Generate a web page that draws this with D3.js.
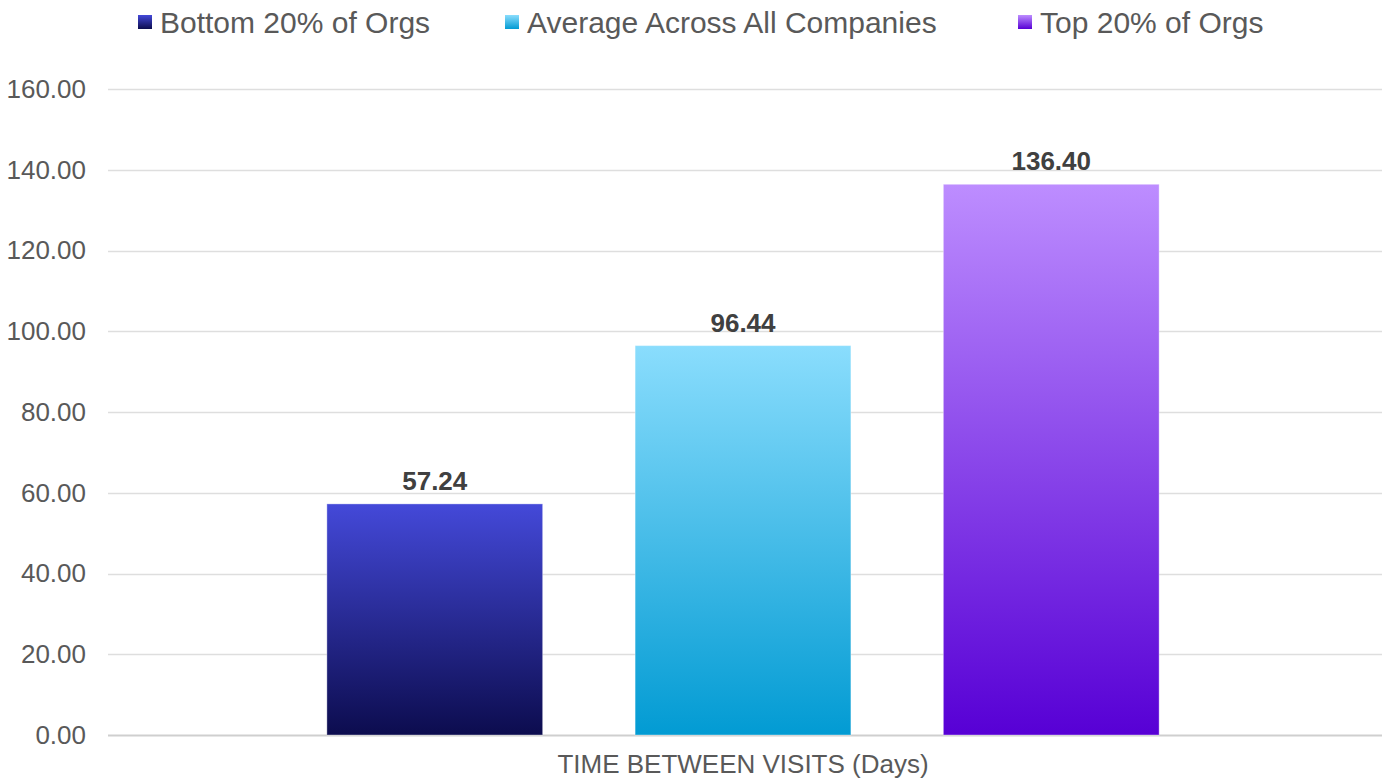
<!DOCTYPE html>
<html>
<head>
<meta charset="utf-8">
<script src="https://cdn.jsdelivr.net/npm/d3@7"></script>
<style>
    body { margin: 0; background: #fff; }
    svg { display: block; font-family: "Liberation Sans", Arial, sans-serif; }
</style>
</head>
<body>
<div id="chart"></div>
<script>
// data
var categories = ["TIME BETWEEN VISITS (Days)"];
var seriesNames = ["Bottom 20% of Orgs", "Average Across All Companies", "Top 20% of Orgs"];
var seriesValues = [57.24, 96.44, 136.40];
var yTicks = [0, 20, 40, 60, 80, 100, 120, 140, 160];

// gradient colours per series (top, bottom)
var colors = [
    ["#4449d9", "#0c0c4e"],
    ["#8addfd", "#029bd3"],
    ["#bd8dff", "#5700d5"]
];

var width = 1382, height = 780;
var margin = {top: 89, right: 4, bottom: 45, left: 108};

var svg = d3.select("#chart").append("svg")
    .attr("width", width)
    .attr("height", height);

var defs = svg.append("defs");
colors.forEach(function (c, i) {
    var grad = defs.append("linearGradient")
        .attr("id", "grad" + i)
        .attr("x1", 0).attr("y1", 0).attr("x2", 0).attr("y2", 1);
    grad.append("stop").attr("offset", "0%").attr("stop-color", c[0]);
    grad.append("stop").attr("offset", "100%").attr("stop-color", c[1]);
});

var y = d3.scaleLinear()
    .domain([0, 160])
    .range([height - margin.bottom, margin.top]);

var x0 = d3.scaleBand()
    .domain(categories)
    .range([margin.left, width - margin.right])
    .paddingInner(0)
    .paddingOuter(0.263);

var x1 = d3.scaleBand()
    .domain(seriesNames)
    .range([0, x0.bandwidth()])
    .paddingInner(0.3)
    .paddingOuter(0);

// gridlines
svg.append("g")
    .selectAll("line")
    .data(yTicks)
    .enter().append("line")
    .attr("x1", margin.left)
    .attr("x2", width)
    .attr("y1", function (d) { return Math.round(y(d)) + 0.5; })
    .attr("y2", function (d) { return Math.round(y(d)) + 0.5; })
    .attr("stroke", function (d) { return d === 0 ? "#cfcfcf" : "#dedede"; })
    .attr("stroke-width", function (d) { return d === 0 ? 2 : 1.5; });

// y axis labels
var yAxis = svg.append("g")
    .attr("transform", "translate(" + (margin.left - 22) + ",0)")
    .call(d3.axisLeft(y).tickValues(yTicks).tickSize(0).tickPadding(0)
        .tickFormat(d3.format(".2f")));
yAxis.select(".domain").remove();
yAxis.selectAll("text")
    .attr("font-size", "26px")
    .attr("font-family", "Liberation Sans, Arial, sans-serif")
    .attr("fill", "#595959");

// bars
var group = svg.append("g")
    .attr("transform", "translate(" + x0(categories[0]) + ",0)");

group.selectAll("rect")
    .data(seriesValues)
    .enter().append("rect")
    .attr("x", function (d, i) { return x1(seriesNames[i]); })
    .attr("y", function (d) { return y(d); })
    .attr("width", x1.bandwidth())
    .attr("height", function (d) { return y(0) - y(d); })
    .attr("fill", function (d, i) { return "url(#grad" + i + ")"; })
    .attr("stroke", "rgba(255,255,255,0.35)")
    .attr("stroke-width", 1);

group.selectAll("text.value")
    .data(seriesValues)
    .enter().append("text")
    .attr("class", "value")
    .attr("x", function (d, i) { return x1(seriesNames[i]) + x1.bandwidth() / 2; })
    .attr("y", function (d) { return y(d) - 14; })
    .attr("text-anchor", "middle")
    .attr("font-size", "26px")
    .attr("font-weight", "bold")
    .attr("fill", "#404040")
    .text(function (d) { return d3.format(".2f")(d); });

// x axis title
svg.append("text")
    .attr("x", x0(categories[0]) + x0.bandwidth() / 2)
    .attr("y", 773)
    .attr("text-anchor", "middle")
    .attr("font-size", "26px")
    .attr("fill", "#595959")
    .text(categories[0]);

// legend
var legendX = [138, 505, 1018];
var legend = svg.append("g")
    .selectAll("g")
    .data(seriesNames)
    .enter().append("g")
    .attr("transform", function (d, i) { return "translate(" + legendX[i] + ",15)"; });

legend.append("rect")
    .attr("width", 14)
    .attr("height", 14)
    .attr("fill", function (d, i) { return "url(#grad" + i + ")"; });

legend.append("text")
    .attr("x", 22)
    .attr("y", 18)
    .attr("font-size", "30px")
    .attr("fill", "#595959")
    .text(function (d) { return d; });
</script>
</body>
</html>
